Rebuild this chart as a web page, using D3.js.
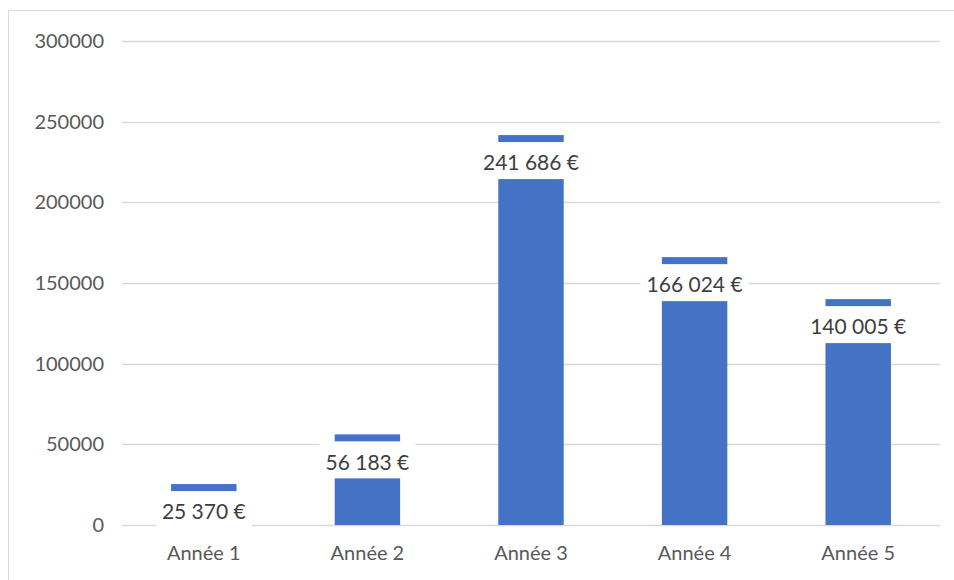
<!DOCTYPE html>
<html>
<head>
<meta charset="utf-8">
<script src="https://cdn.jsdelivr.net/npm/d3@7"></script>
<style>
  body { margin: 0; background: #fff; }
  text { font-family: Lato, "Open Sans", sans-serif; }
</style>
</head>
<body>
<script>
// chart data
const categories = ["Année 1", "Année 2", "Année 3", "Année 4", "Année 5"];
const values = [25370, 56183, 241686, 166024, 140005];
const yTicks = [0, 50000, 100000, 150000, 200000, 250000, 300000];

const canvWidth = 954, canvHeight = 580;
const margin = {top: 41, right: 14, bottom: 55, left: 122};
const width = canvWidth - margin.left - margin.right;
const height = canvHeight - margin.top - margin.bottom;

const svg = d3.select("body").append("svg")
    .attr("width", canvWidth)
    .attr("height", canvHeight);

// chart frame
svg.append("rect")
    .attr("x", 8.5).attr("y", 10.5)
    .attr("width", canvWidth + 10).attr("height", canvHeight + 10)
    .attr("fill", "none")
    .attr("stroke", "#d9d9d9");

const g = svg.append("g")
    .attr("transform", `translate(${margin.left},${margin.top})`);

const xScale = d3.scaleBand().range([0, width]).paddingInner(0.6).paddingOuter(0.3)
    .domain(categories);
const yScale = d3.scaleLinear().range([height, 0]).domain([0, 300000]);

// gridlines
g.selectAll("line.grid")
    .data(yTicks)
    .enter().append("line")
    .attr("class", "grid")
    .attr("x1", 0).attr("x2", width)
    .attr("y1", d => Math.round(yScale(d)) + 0.5)
    .attr("y2", d => Math.round(yScale(d)) + 0.5)
    .attr("stroke", "#d9d9d9")
    .attr("stroke-width", 1.3);

// y axis labels
g.selectAll("text.ytick")
    .data(yTicks)
    .enter().append("text")
    .attr("class", "ytick")
    .attr("x", -18)
    .attr("y", d => yScale(d))
    .attr("dy", "0.35em")
    .attr("text-anchor", "end")
    .attr("font-size", "20px")
    .attr("fill", "#595959")
    .text(d => d);

// x axis labels
g.selectAll("text.xtick")
    .data(categories)
    .enter().append("text")
    .attr("class", "xtick")
    .attr("x", d => xScale(d) + xScale.bandwidth() / 2)
    .attr("y", height + 28)
    .attr("dy", "0.35em")
    .attr("text-anchor", "middle")
    .attr("font-size", "20px")
    .attr("fill", "#595959")
    .text(d => d);

const data = categories.map((c, i) => ({cat: c, value: values[i]}));

// bars
g.selectAll("rect.bar")
    .data(data)
    .enter().append("rect")
    .attr("class", "bar")
    .attr("x", d => xScale(d.cat))
    .attr("y", d => yScale(d.value))
    .attr("width", xScale.bandwidth())
    .attr("height", d => height - yScale(d.value))
    .attr("fill", "#4472c4");

// data labels with white boxes
const fmt = v => d3.format(",")(v).replace(/,/g, " ") + " €";
const labels = g.selectAll("g.label")
    .data(data)
    .enter().append("g")
    .attr("class", "label");

const labelText = labels.append("text")
    .attr("x", d => xScale(d.cat) + xScale.bandwidth() / 2)
    .attr("y", d => yScale(d.value) + 28)
    .attr("dy", "0.35em")
    .attr("text-anchor", "middle")
    .attr("font-size", "21px")
    .attr("fill", "#404040")
    .text(d => fmt(d.value));

labelText.each(function(d) {
    const w = this.getComputedTextLength() + 12;
    d3.select(this.parentNode).insert("rect", "text")
        .attr("x", xScale(d.cat) + xScale.bandwidth() / 2 - w / 2)
        .attr("y", yScale(d.value) + 7)
        .attr("width", w)
        .attr("height", 37)
        .attr("fill", "#fff");
});
</script>
</body>
</html>
